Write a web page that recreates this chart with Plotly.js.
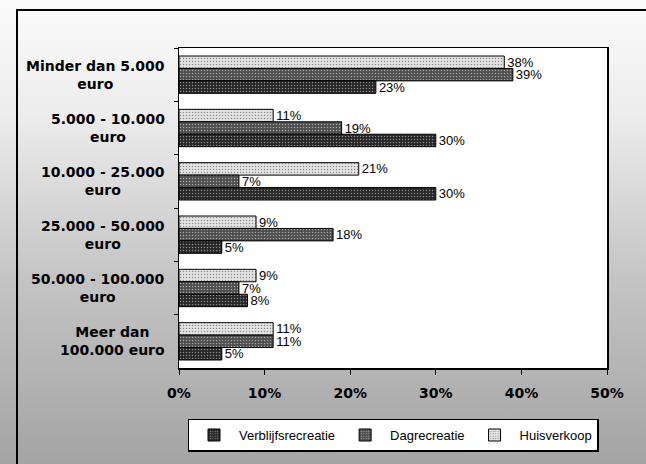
<!DOCTYPE html>
<html>
<head>
<meta charset="utf-8">
<script src="https://cdn.plot.ly/plotly-3.0.1.min.js"></script>
<style>
  html, body { margin: 0; padding: 0; }
  body { width: 646px; height: 464px; overflow: hidden;
         background: linear-gradient(to bottom, #fbfbfb 0%, #ececec 25%, #c4c4c4 60%, #a4a4a4 100%); position: relative; }
  #frame { position: absolute; left: 16px; top: 9px; width: 640px; height: 470px; border: 2px solid #000; box-sizing: border-box; }
  #chart { position: absolute; left: 0; top: 0; width: 646px; height: 464px; }
</style>
</head>
<body>
<div id="frame"></div>
<div id="chart"></div>
<script>
const categories = [
  "Minder dan 5.000<br>euro",
  "5.000 - 10.000<br>euro",
  "10.000 - 25.000<br>euro",
  "25.000 - 50.000<br>euro",
  "50.000 - 100.000<br>euro",
  "Meer dan<br>100.000 euro"
];
const huisverkoop = [38, 11, 21, 9, 9, 11];
const dagrecreatie = [39, 19, 7, 18, 7, 11];
const verblijfsrecreatie = [23, 30, 30, 5, 8, 5];
const xTickVals = [0, 10, 20, 30, 40, 50];
const xTickText = ["0%", "10%", "20%", "30%", "40%", "50%"];

function barTrace(name, values, color, fg) {
  return {
    type: "bar", orientation: "h", name: name,
    y: categories, x: values,
    text: values.map(v => v + "%"),
    textposition: "outside",
    constraintext: "none",
    cliponaxis: false,
    textfont: { family: "Liberation Sans, Arial, sans-serif", size: 13, color: "#000" },
    marker: { color: color, line: { color: "#000", width: 1 },
              pattern: { shape: ".", fgcolor: fg, bgcolor: color, size: 3, solidity: 0.2 } },
    hoverinfo: "skip"
  };
}

const data = [
  barTrace("Huisverkoop", huisverkoop, "#e4e4e4", "#8a8a8a"),
  barTrace("Dagrecreatie", dagrecreatie, "#4e4e4e", "#a8a8a8"),
  barTrace("Verblijfsrecreatie", verblijfsrecreatie, "#262626", "#8c8c8c")
];

const annotations = categories.map(c => ({
  xref: "paper", yref: "y", x: 0, y: c, xanchor: "right", yanchor: "middle",
  xshift: -12, text: "<b>" + c + "</b>", showarrow: false, align: "center",
  font: { family: "DejaVu Sans, Verdana, sans-serif", size: 14, color: "#000" }
}));

const layout = {
  width: 646, height: 464,
  margin: { l: 179, r: 39, t: 48, b: 90 },
  paper_bgcolor: "rgba(0,0,0,0)",
  plot_bgcolor: "#ffffff",
  barmode: "group",
  bargap: 0.3,
  bargroupgap: 0,
  showlegend: true,
  legend: {
    orientation: "h", x: 0.5, xanchor: "center", y: -0.158, yanchor: "top",
    traceorder: "reversed",
    bgcolor: "#ffffff", bordercolor: "#000", borderwidth: 1.5,
    font: { family: "Liberation Sans, Arial, sans-serif", size: 13, color: "#000" },
    itemwidth: 40
  },
  xaxis: {
    range: [0, 50], tickvals: xTickVals, ticktext: xTickText,
    showgrid: false, zeroline: false,
    showline: true, linecolor: "#000", linewidth: 1.5, mirror: true,
    ticks: "outside", ticklen: 5, tickcolor: "#000",
    ticklabelstandoff: 7,
    tickfont: { family: "DejaVu Sans, Verdana, sans-serif", size: 14, color: "#000", weight: "bold" }
  },
  yaxis: {
    autorange: "reversed", type: "category",
    showticklabels: false, showgrid: false, zeroline: false,
    showline: true, linecolor: "#000", linewidth: 1.5, mirror: true,
    ticks: "outside", tickson: "boundaries", ticklen: 4, tickcolor: "#000"
  },
  annotations: annotations
};

Plotly.newPlot("chart", data, layout, { displayModeBar: false, staticPlot: true });
</script>
</body>
</html>
